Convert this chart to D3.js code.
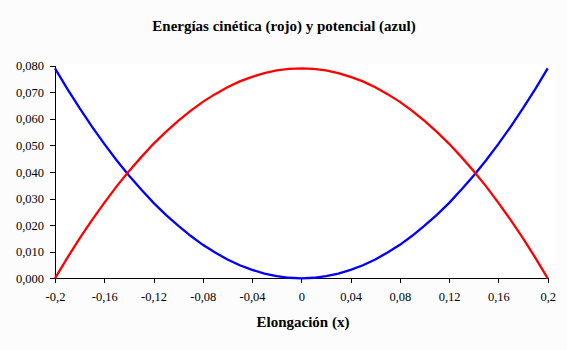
<!DOCTYPE html>
<html><head><meta charset="utf-8">
<script src="https://cdn.jsdelivr.net/npm/d3@7"></script>
<style>body{margin:0;background:#fcfcfc;} svg text{font-family:"Times New Roman","Liberation Serif",Times,serif !important;}</style>
</head><body><svg id="c" width="567" height="350"></svg>
<script>
const xValues = [-0.20,-0.19,-0.18,-0.17,-0.16,-0.15,-0.14,-0.13,-0.12,-0.11,-0.10,-0.09,-0.08,-0.07,-0.06,-0.05,-0.04,-0.03,-0.02,-0.01,0,
 0.01,0.02,0.03,0.04,0.05,0.06,0.07,0.08,0.09,0.10,0.11,0.12,0.13,0.14,0.15,0.16,0.17,0.18,0.19,0.20];
const kinetic = [0,0.0077,0.0150,0.0219,0.0284,0.0346,0.0403,0.0456,0.0506,0.0551,0.0592,0.0630,0.0664,0.0693,0.0719,0.0741,0.0758,0.0772,0.0782,0.0788,0.0790,
 0.0788,0.0782,0.0772,0.0758,0.0741,0.0719,0.0693,0.0664,0.0630,0.0592,0.0551,0.0506,0.0456,0.0403,0.0346,0.0284,0.0219,0.0150,0.0077,0];
const potential = [0.0790,0.0713,0.0640,0.0571,0.0506,0.0444,0.0387,0.0334,0.0284,0.0239,0.0198,0.0160,0.0126,0.0097,0.0071,0.0049,0.0032,0.0018,0.0008,0.0002,0,
 0.0002,0.0008,0.0018,0.0032,0.0049,0.0071,0.0097,0.0126,0.0160,0.0198,0.0239,0.0284,0.0334,0.0387,0.0444,0.0506,0.0571,0.0640,0.0713,0.0790];
const xTicks = [-0.2,-0.16,-0.12,-0.08,-0.04,0,0.04,0.08,0.12,0.16,0.2];
const yTicks = [0,0.01,0.02,0.03,0.04,0.05,0.06,0.07,0.08];
const title = "Energías cinética (rojo) y potencial (azul)";
const xTitle = "Elongación (x)";

const svg = d3.select("#c");
const x = d3.scaleLinear().domain([-0.2,0.2]).range([55,547.7]);
const y = d3.scaleLinear().domain([0,0.08]).range([278.3,65.7]);
const fmtX = v => (Math.abs(v)<1e-9 ? "0" : d3.format(".2~f")(v)).replace("\u2212","-").replace(".",",");
const fmtY = v => d3.format(".3f")(v).replace(".",",");

svg.append("rect").attr("x",55).attr("y",64).attr("width",500).attr("height",214.3).attr("fill","#ffffff");

const gx = svg.append("g").attr("transform","translate(0,278.3)")
  .call(d3.axisBottom(x).tickValues(xTicks).tickFormat(fmtX).tickSize(5).tickSizeOuter(0));
const gy = svg.append("g").attr("transform","translate(55,0)")
  .call(d3.axisLeft(y).tickValues(yTicks).tickFormat(fmtY).tickSize(5).tickSizeOuter(0));
[gx,gy].forEach(g=>{
  g.attr("font-family",null);
  g.selectAll("path,line").attr("stroke","#000").attr("shape-rendering","crispEdges");
  g.selectAll("text").attr("font-size","12.5px").attr("fill","#000");
});
gx.selectAll("text").attr("y",23).attr("dy",0);
gy.selectAll("text").attr("x",-11);

const line = d3.line().x((d,i)=>x(xValues[i])).y(d=>y(d));
svg.append("path").datum(potential).attr("d",line).attr("fill","none").attr("stroke","#0000ff").attr("stroke-width",2.3);
svg.append("path").datum(kinetic).attr("d",line).attr("fill","none").attr("stroke","#ff0000").attr("stroke-width",2.3);

svg.append("text").attr("x",284).attr("y",31).attr("text-anchor","middle")
  .attr("font-size","15px").attr("font-weight","bold").text(title);
svg.append("text").attr("x",303).attr("y",327).attr("text-anchor","middle")
  .attr("font-size","15px").attr("font-weight","bold").text(xTitle);
</script></body></html>
